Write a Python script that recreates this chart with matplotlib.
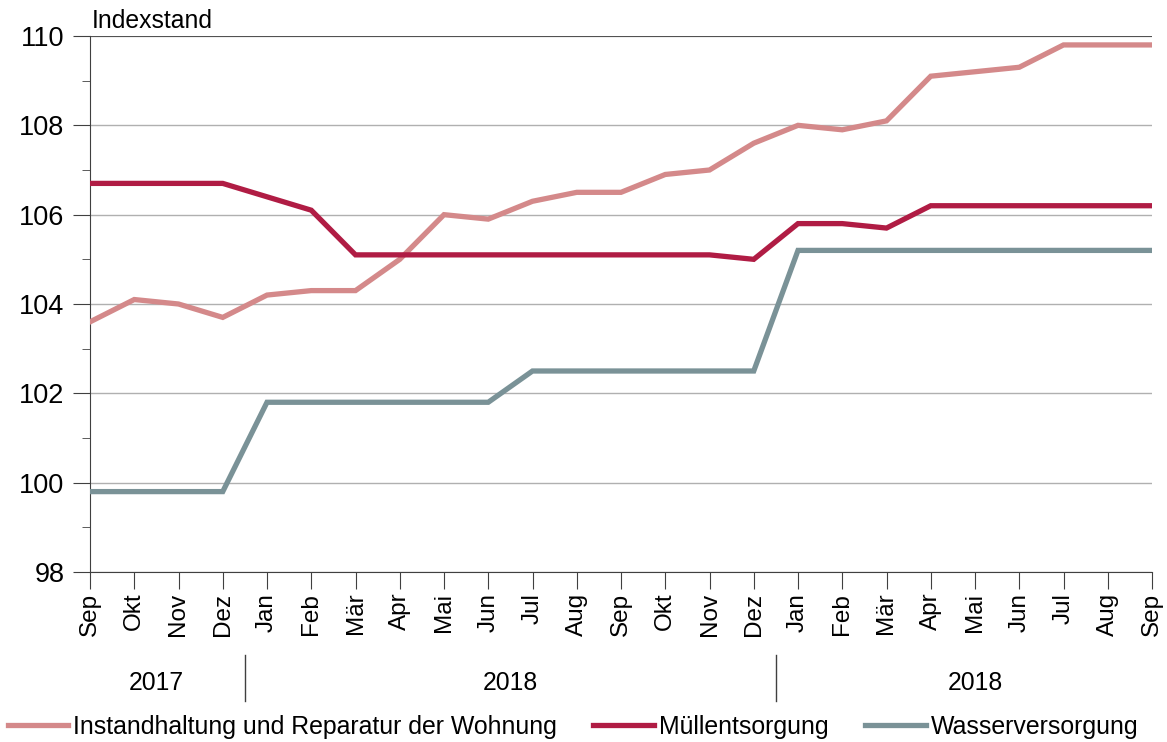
import matplotlib.pyplot as plt
from matplotlib.ticker import MultipleLocator

plt.rcParams["font.family"] = ["Liberation Sans", "DejaVu Sans"]

months = ["Sep", "Okt", "Nov", "Dez", "Jan", "Feb", "Mär", "Apr", "Mai", "Jun", "Jul", "Aug",
          "Sep", "Okt", "Nov", "Dez", "Jan", "Feb", "Mär", "Apr", "Mai", "Jun", "Jul", "Aug", "Sep"]
years = ["2017", "2018", "2018"]
year_spans = [(0, 3), (4, 15), (16, 24)]

instandhaltung = [103.6, 104.1, 104.0, 103.7, 104.2, 104.3, 104.3, 105.0, 106.0, 105.9, 106.3, 106.5,
                  106.5, 106.9, 107.0, 107.6, 108.0, 107.9, 108.1, 109.1, 109.2, 109.3, 109.8, 109.8, 109.8]
muell = [106.7, 106.7, 106.7, 106.7, 106.4, 106.1, 105.1, 105.1, 105.1, 105.1, 105.1, 105.1,
         105.1, 105.1, 105.1, 105.0, 105.8, 105.8, 105.7, 106.2, 106.2, 106.2, 106.2, 106.2, 106.2]
wasser = [99.8, 99.8, 99.8, 99.8, 101.8, 101.8, 101.8, 101.8, 101.8, 101.8, 102.5, 102.5,
          102.5, 102.5, 102.5, 102.5, 105.2, 105.2, 105.2, 105.2, 105.2, 105.2, 105.2, 105.2, 105.2]

x = list(range(len(months)))

fig = plt.figure(figsize=(11.67, 7.42), dpi=100)
ax = fig.add_axes([90 / 1167, 1 - 572 / 742, 1062 / 1167, 536 / 742])

ax.plot(x, instandhaltung, color="#d4898a", lw=3.8, label="Instandhaltung und Reparatur der Wohnung",
        solid_joinstyle="miter", zorder=3)
ax.plot(x, muell, color="#b01c44", lw=3.8, label="Müllentsorgung", solid_joinstyle="miter", zorder=4)
ax.plot(x, wasser, color="#7a9297", lw=3.8, label="Wasserversorgung", solid_joinstyle="miter", zorder=3)

ax.set_xlim(0, 24)
ax.set_ylim(98, 110)
ax.yaxis.set_major_locator(MultipleLocator(2))
ax.yaxis.set_minor_locator(MultipleLocator(1))
ax.grid(axis="y", color="#b0b0b0", lw=1)
ax.axhline(110, color="#404040", lw=1.2, zorder=2)

for s in ["top", "right"]:
    ax.spines[s].set_visible(False)
ax.spines["left"].set_color("#404040")
ax.spines["bottom"].set_color("#404040")

ax.tick_params(axis="y", which="major", length=12.5, color="#404040", labelsize=19.5, pad=6)
ax.tick_params(axis="y", which="minor", length=6, color="#404040")
ax.set_xticks(x)
ax.set_xticklabels(months, rotation=90, fontsize=17.5)
ax.tick_params(axis="x", length=12, color="#404040", pad=3, direction="out")

ax.text(0.002, 1.005, "Indexstand", fontsize=17.8, va="bottom", ha="left", transform=ax.transAxes)

# year separators and labels
xt = ax.get_xaxis_transform()
for i, (a, b) in enumerate(year_spans):
    ax.text((a + b) / 2, -0.207, years[i], ha="center", va="center", fontsize=17.8,
            transform=xt, clip_on=False)
for sep in [3.5, 15.5]:
    ax.plot([sep, sep], [-0.155, -0.24], color="#404040", lw=1, transform=xt, clip_on=False)

fig.legend(loc="center", bbox_to_anchor=(0.491, 0.02), ncol=3, frameon=False,
           fontsize=17.9, handlelength=2.45, handletextpad=0.2, columnspacing=1.45,
           borderaxespad=0, borderpad=0)

fig.savefig("out.png", dpi=100)
